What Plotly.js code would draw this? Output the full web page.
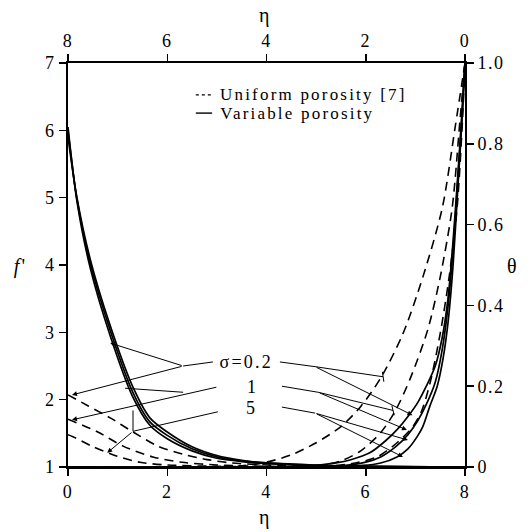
<!DOCTYPE html>
<html>
<head>
<meta charset="utf-8">
<script src="https://cdn.plot.ly/plotly-3.0.1.min.js"></script>
<style>
html,body{margin:0;padding:0;background:#fff;}
#chart{width:531px;height:532px;}
#chart .annotation-text{letter-spacing:2.2px;}
#chart .xtick text,#chart .x2tick text,#chart .ytick text,#chart .y2tick text{letter-spacing:1.5px;}
</style>
</head>
<body>
<div id="chart"></div>
<script>
// ---- f' curves (bottom eta axis, left f' axis) ----
// Uniform porosity [7] (dashed)
const fUni_eta_s02 = [0, 0.4, 0.85, 1.31, 1.81, 2.32, 2.8, 3.3, 4.0, 5.0, 6.0, 8.0];
const fUni_val_s02 = [2.07, 1.91, 1.73, 1.52, 1.31, 1.19, 1.11, 1.06, 1.03, 1.01, 1.0, 1.0];
const fUni_eta_s1 = [0, 0.6, 1.11, 1.71, 2.3, 3.0, 4.0, 5.0, 8.0];
const fUni_val_s1 = [1.71, 1.52, 1.31, 1.15, 1.07, 1.03, 1.01, 1.0, 1.0];
const fUni_eta_s5 = [0, 0.1, 0.48, 0.99, 1.45, 2.0, 3.0, 4.0, 8.0];
const fUni_val_s5 = [1.48, 1.45, 1.31, 1.16, 1.07, 1.03, 1.01, 1.0, 1.0];
// Variable porosity (solid)
const fVar_eta = [0, 0.18, 0.45, 0.85, 1.3, 1.65, 2.0, 2.5, 3.0, 3.5, 4.0, 5.0, 6.0, 8.0];
const fVar_val_s02 = [6.05, 4.95, 3.95, 2.95, 2.05, 1.62, 1.42, 1.24, 1.13, 1.08, 1.05, 1.02, 1.01, 1.0];
const fVar_val_s1  = [6.0, 4.98, 4.02, 3.03, 2.12, 1.67, 1.47, 1.27, 1.15, 1.09, 1.06, 1.02, 1.01, 1.0];
const fVar_val_s5  = [5.9, 5.0, 4.08, 3.1, 2.2, 1.73, 1.52, 1.3, 1.17, 1.1, 1.06, 1.03, 1.01, 1.0];

// ---- theta curves (top eta axis reversed, right theta axis) ----
// Uniform porosity [7] (dashed)
const tUni_eta_s02 = [0, 0.2, 0.46, 0.85, 1.25, 1.7, 2.1, 2.5, 3.0, 3.5, 4.0, 4.5, 8.0];
const tUni_val_s02 = [1.0, 0.84, 0.64, 0.47, 0.33, 0.22, 0.15, 0.10, 0.06, 0.03, 0.012, 0.003, 0];
const tUni_eta_s1 = [0, 0.1, 0.26, 0.5, 0.75, 1.1, 1.4, 1.7, 2.1, 2.5, 3.0, 8.0];
const tUni_val_s1 = [1.0, 0.86, 0.64, 0.47, 0.34, 0.22, 0.14, 0.085, 0.04, 0.015, 0.003, 0];
const tUni_eta_s5 = [0, 0.05, 0.16, 0.32, 0.5, 0.7, 0.87, 1.05, 1.37, 1.77, 2.3, 3.0, 8.0];
const tUni_val_s5 = [1.0, 0.86, 0.64, 0.47, 0.33, 0.21, 0.14, 0.10, 0.06, 0.025, 0.008, 0, 0];
// Variable porosity (solid)
const tVar_eta_s02 = [0, 0.06, 0.14, 0.24, 0.34, 0.46, 0.6, 0.78, 0.95, 1.15, 1.35, 1.6, 1.92, 2.3, 2.6, 3.2, 8.0];
const tVar_val_s02 = [1.0, 0.88, 0.73, 0.56, 0.42, 0.32, 0.25, 0.2, 0.16, 0.125, 0.095, 0.065, 0.035, 0.018, 0.01, 0.002, 0];
const tVar_eta_s1 = [0, 0.06, 0.14, 0.24, 0.34, 0.46, 0.6, 0.78, 0.95, 1.15, 1.4, 1.7, 2.0, 2.5, 8.0];
const tVar_val_s1 = [1.0, 0.87, 0.72, 0.54, 0.40, 0.29, 0.21, 0.155, 0.115, 0.08, 0.05, 0.025, 0.012, 0.003, 0];
const tVar_eta_s5 = [0, 0.06, 0.14, 0.24, 0.34, 0.44, 0.56, 0.71, 0.85, 0.97, 1.15, 1.37, 1.7, 2.06, 8.0];
const tVar_val_s5 = [1.0, 0.86, 0.70, 0.50, 0.36, 0.27, 0.20, 0.15, 0.10, 0.074, 0.045, 0.025, 0.01, 0.004, 0];

// tick labels
const y2Ticks = [0, 0.2, 0.4, 0.6, 0.8, 1.0];
const y2TickText = ['0', '0.2', '0.4', '0.6', '0.8', '1.0'];
const sigmaLabels = ['\u03c3=0.2', '1', '5'];
const legendLabels = ['Uniform porosity [7]', 'Variable porosity'];

const FONT = 'Liberation Serif';
const dashStyle = '9px,6px';

function tr(x, y, dashed, onTop) {
  return {
    x: x, y: y, type: 'scatter', mode: 'lines',
    line: {color: '#000', width: dashed ? 1.6 : 1.7, dash: dashed ? dashStyle : 'solid', shape: 'spline', smoothing: 0.8},
    xaxis: onTop ? 'x2' : 'x', yaxis: onTop ? 'y2' : 'y',
    showlegend: false, hoverinfo: 'skip'
  };
}

const W = 531, H = 532, ML = 68, MR = 66, MT = 63, MB = 65;
const PW = W - ML - MR, PH = H - MT - MB;
const pxX = 8 / PW, pxF = 6 / PH, pxT = 1 / PH;   // data units per pixel
const half = 2.5;                                   // half length of a minor tick, px

// minor tick positions (decoration only, drawn as line markers just outside the frame)
const mBx = [], mBy = [], mTx = [], mTy = [], mLx = [], mLy = [], mRx = [], mRy = [];
for (let i = 1; i < 40; i++) {
  if (i % 10 === 0) continue;
  mBx.push(i * 0.2); mBy.push(1 - half * pxF);
  mTx.push(i * 0.2); mTy.push(1 + half * pxT);
}
for (let i = 1; i < 60; i++) {
  if (i % 10 === 0) continue;
  mLx.push(-half * pxX); mLy.push(1 + i * 0.1);
}
for (let i = 1; i < 50; i++) {
  if (i % 10 === 0) continue;
  mRx.push(-half * pxX); mRy.push(i * 0.02);
}
function tickTrace(x, y, sym, top) {
  return {x: x, y: y, type: 'scatter', mode: 'markers', cliponaxis: false,
    marker: {symbol: sym, size: 2 * half, color: '#000', line: {width: 1.5, color: '#000'}},
    xaxis: top ? 'x2' : 'x', yaxis: top ? 'y2' : 'y', showlegend: false, hoverinfo: 'skip'};
}

const data = [
  tr(fUni_eta_s02, fUni_val_s02, true, false),
  tr(fUni_eta_s1, fUni_val_s1, true, false),
  tr(fUni_eta_s5, fUni_val_s5, true, false),
  tr(fVar_eta, fVar_val_s02, false, false),
  tr(fVar_eta, fVar_val_s1, false, false),
  tr(fVar_eta, fVar_val_s5, false, false),
  tr(tUni_eta_s02, tUni_val_s02, true, true),
  tr(tUni_eta_s1, tUni_val_s1, true, true),
  tr(tUni_eta_s5, tUni_val_s5, true, true),
  tr(tVar_eta_s02, tVar_val_s02, false, true),
  tr(tVar_eta_s1, tVar_val_s1, false, true),
  tr(tVar_eta_s5, tVar_val_s5, false, true),
  tickTrace(mBx, mBy, 'line-ns-open', false),
  tickTrace(mLx, mLy, 'line-ew-open', false),
  tickTrace(mTx, mTy, 'line-ns-open', true),
  tickTrace(mRx, mRy, 'line-ew-open', true)
];

const axBase = {
  showgrid: false, zeroline: false, showline: true, linecolor: '#000', linewidth: 2,
  ticks: 'outside', ticklen: 7, tickwidth: 1.5, tickcolor: '#000',
  tickfont: {family: FONT, size: 18, color: '#000'}, autorange: false, fixedrange: true
};

const layout = {
  width: W, height: H,
  margin: {l: ML, r: MR, t: MT, b: MB, pad: 0},
  paper_bgcolor: '#fff', plot_bgcolor: '#fff',
  showlegend: false,
  font: {family: FONT, color: '#000'},
  xaxis: Object.assign({}, axBase, {range: [0, 8], tickmode: 'linear', tick0: 0, dtick: 2}),
  xaxis2: Object.assign({}, axBase, {range: [8, 0], tickmode: 'linear', tick0: 0, dtick: 2, overlaying: 'x', side: 'top', anchor: 'y'}),
  yaxis: Object.assign({}, axBase, {range: [1, 7], tickmode: 'linear', tick0: 1, dtick: 1}),
  yaxis2: Object.assign({}, axBase, {range: [0, 1], tickmode: 'array', tickvals: y2Ticks, ticktext: y2TickText,
    overlaying: 'y', side: 'right', anchor: 'x'}),
  annotations: [],
  shapes: []
};

const A = layout.annotations, S = layout.shapes;

function txt(t, x, y, opts) {
  A.push(Object.assign({text: t, x: x, y: y, xref: 'paper', yref: 'paper', showarrow: false,
    xanchor: 'center', yanchor: 'middle', font: {family: FONT, size: 18, color: '#000'}}, opts || {}));
}
// axis titles
txt('\u03b7', 0.497, -0.126, {font: {family: FONT, size: 20, color: '#000'}});
txt('\u03b7', 0.497, 1.118, {font: {family: FONT, size: 20, color: '#000'}});
txt("<i>f</i>'", -0.12, 0.497, {font: {family: FONT, size: 20, color: '#000'}});
txt('\u03b8', 1.121, 0.497, {font: {family: FONT, size: 20, color: '#000'}});

// legend (centred so that letter spacing stays symmetric)
S.push({type: 'line', xref: 'paper', yref: 'paper', x0: 0.322, x1: 0.363, y0: 0.921, y1: 0.921,
  line: {color: '#000', width: 1.2, dash: '3px,3px'}});
S.push({type: 'line', xref: 'paper', yref: 'paper', x0: 0.322, x1: 0.363, y0: 0.876, y1: 0.876,
  line: {color: '#000', width: 1.4}});
txt(legendLabels[0], 0.618, 0.921, {font: {family: FONT, size: 17, color: '#000'}});
txt(legendLabels[1], 0.578, 0.876, {font: {family: FONT, size: 17, color: '#000'}});

// sigma labels (data coords on bottom eta / f')
function dtxt(t, x, y) {
  A.push({text: t, x: x, y: y, xref: 'x', yref: 'y', showarrow: false,
    font: {family: FONT, size: 18, color: '#000'}});
}
dtxt(sigmaLabels[0], 3.59, 2.56);
dtxt(sigmaLabels[1], 3.72, 2.19);
dtxt(sigmaLabels[2], 3.70, 1.88);

function seg(x0, y0, x1, y1) {
  S.push({type: 'line', xref: 'x', yref: 'y', x0: x0, y0: y0, x1: x1, y1: y1, line: {color: '#000', width: 1}});
}
function arr(x0, y0, x1, y1, head) {
  A.push({x: x1, y: y1, ax: x0, ay: y0, xref: 'x', yref: 'y', axref: 'x', ayref: 'y', text: '',
    showarrow: true, arrowhead: head, arrowsize: 1, arrowwidth: 1, arrowcolor: '#000', standoff: 0, startstandoff: 0});
}
// left leaders
seg(2.92, 2.56, 2.32, 2.50);
arr(2.32, 2.50, 0.85, 2.84, 2);
arr(2.32, 2.50, 0.08, 2.07, 2);
arr(3.02, 2.19, 0.08, 1.70, 2);
seg(2.32, 2.11, 1.15, 2.17);
seg(3.02, 1.82, 1.31, 1.53);
seg(1.31, 1.53, 1.31, 1.84);
arr(1.31, 1.53, 0.79, 1.21, 2);
// right leaders
seg(4.27, 2.56, 4.98, 2.49);
seg(4.98, 2.49, 6.35, 2.34);
seg(6.365, 2.266, 6.335, 2.414);
arr(4.98, 2.49, 6.94, 1.77, 2);
seg(4.31, 2.20, 5.04, 2.11);
seg(5.04, 2.11, 6.55, 1.84);
seg(6.574, 1.768, 6.526, 1.912);
arr(5.04, 2.11, 6.83, 1.55, 2);
seg(4.31, 1.89, 4.98, 1.80);
arr(4.98, 1.80, 6.85, 1.40, 2);
arr(4.98, 1.80, 6.75, 1.15, 2);

Plotly.newPlot('chart', data, layout, {displayModeBar: false, staticPlot: true});
</script>
</body>
</html>
